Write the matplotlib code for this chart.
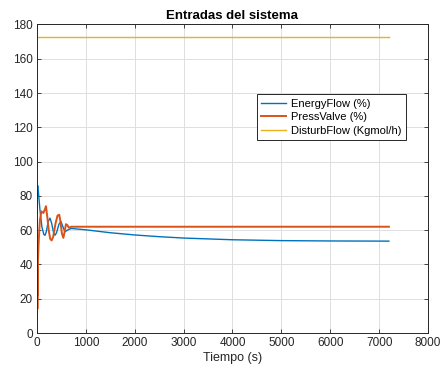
import matplotlib
matplotlib.use("Agg")
import matplotlib.pyplot as plt

plt.rcParams['font.family'] = ['Liberation Sans', 'DejaVu Sans']

# Valve and flow inputs over the simulation horizon
t_energy = [0, 8, 15, 30, 60, 100, 140, 164, 190, 230, 266, 300, 340, 368,
            400, 450, 491, 530, 573, 620, 700, 1000, 1500, 2000, 2500,
            3000, 4000, 5000, 6000, 7200]
energy_flow = [70, 84, 86, 82, 72, 62, 57.5, 57, 59, 65, 67, 64, 58.5, 57,
               58.5, 63.5, 65, 62, 59, 60, 61, 60.2, 58.5, 57.2, 56.2,
               55.4, 54.4, 53.9, 53.7, 53.6]

t_press = [0, 4, 8, 12, 16, 20, 30, 40, 60, 90, 130, 160, 184, 210, 240, 270,
           300, 330, 380, 420, 456, 480, 510, 540, 565, 593, 620, 650, 700,
           7200]
press_valve = [8, 30, 14, 38, 22, 42, 50, 56, 66, 71, 70, 72, 74, 68, 60,
               55, 54, 56, 64, 68.5, 69, 65, 58, 55.5, 59, 63.5, 63, 61.5,
               62, 62]

t_disturb = [0, 7200]
disturb_flow = [172.7, 172.7]

series_labels = ['EnergyFlow (%)', 'PressValve (%)', 'DisturbFlow (Kgmol/h)']
x_ticks = list(range(0, 8001, 1000))
y_ticks = list(range(0, 181, 20))

fig = plt.figure(figsize=(4.45, 3.75), dpi=100)
ax = fig.add_axes([0.0831, 0.112, 0.8787, 0.8227])

ax.plot(t_energy, energy_flow, color='#0072BD', lw=1.0, label=series_labels[0])
ax.plot(t_press, press_valve, color='#D95319', lw=1.4, label=series_labels[1])
ax.plot(t_disturb, disturb_flow, color='#EDB120', lw=1.0, label=series_labels[2])

ax.set_xlim(0, 8000)
ax.set_ylim(0, 180)
ax.set_xticks(x_ticks)
ax.set_yticks(y_ticks)
ax.grid(True, color='#dedede', lw=0.7)
ax.set_axisbelow(True)
ax.tick_params(direction='in', length=3, width=0.6, colors='#262626',
               labelsize=8.5, top=True, right=True, pad=3)
for s in ax.spines.values():
    s.set_color('#262626')
    s.set_linewidth(0.7)

ax.set_xlabel('Tiempo (s)', fontsize=9, color='#262626', labelpad=2)
ax.set_title('Entradas del sistema', fontsize=9.5, fontweight='bold', pad=4)

leg = ax.legend(loc='upper left', bbox_to_anchor=(0.5627, 0.7737),
                borderaxespad=0, fontsize=8, fancybox=False, framealpha=1,
                edgecolor='#262626', handlelength=2.2, handletextpad=0.5,
                borderpad=0.4, labelspacing=0.32)
leg.get_frame().set_linewidth(0.7)

fig.savefig('out.png', dpi=100)
